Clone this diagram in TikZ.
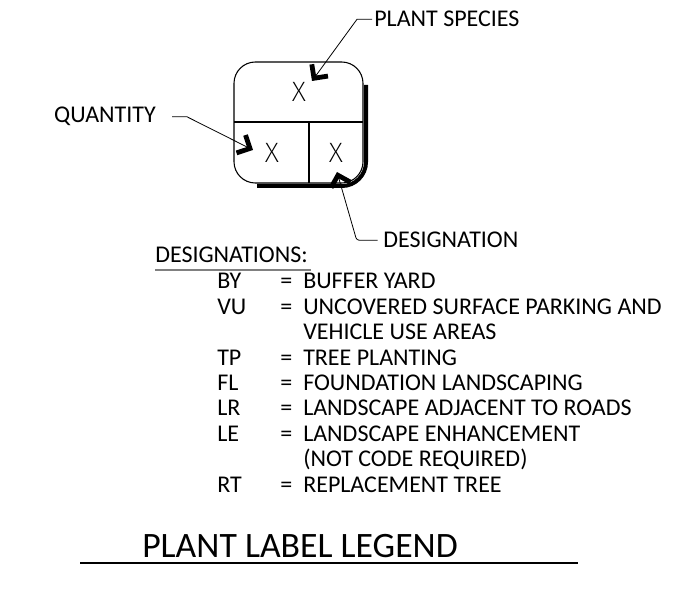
\documentclass[tikz,border=0pt]{standalone}
\usepackage{fontspec}
\setmainfont{Carlito}
\newfontfamily\markfont{Fira Sans ExtraLight}
\usetikzlibrary{arrows.meta,calc}

\begin{document}
\begin{tikzpicture}[
  x=0.75pt,y=-0.75pt,
  txt/.style={anchor=base west,inner sep=0pt,font=\fontsize{18}{21}\selectfont},
  xmark/.style={inner sep=0pt,font=\markfont\fontsize{21}{21}\selectfont},
  leader/.style={line width=0.6pt,-{Straight Barb[length=7.5pt,width=15pt,line width=3.6pt]}}
]
  \useasboundingbox (0,0) rectangle (694,599);

  % label box
  \draw[line width=0.8pt,rounded corners=16pt] (234,62) rectangle (363,183);
  \draw[line width=0.8pt] (234,122) -- (363,122);
  \draw[line width=0.8pt] (309,122) -- (309,183);
  \draw[line width=3pt,rounded corners=18pt] (366,85) -- (366,186) -- (257,186);
  \node[xmark] (xspecies) at (299,92) {X};
  \node[xmark] (xqty) at (272,152.5) {X};
  \node[xmark] (xdesig) at (336,152.5) {X};

  % callouts
  \node[txt] (species) at (374,27) {PLANT SPECIES};
  \node[txt,anchor=base east] (qty) at (156,123) {QUANTITY};
  \node[txt] (desig) at (383,248) {DESIGNATION};
  \coordinate (spTip) at (312,81);
  \coordinate (qtyTip) at (253,150);
  \coordinate (dsTip) at (337,172);
  \draw[leader] ([xshift=-1.5pt]species.west) -- ++(-15,0) -- (spTip);
  \draw[leader] ([xshift=12pt]qty.east) -- ++(15,0) -- (qtyTip);
  \draw[leader,rounded corners=2pt] ([xshift=-4pt]desig.west) -- ++(-21,0) -- (dsTip);

  % designations list
  \node[txt] (head) at (155,263) {DESIGNATIONS:};
  \draw[gray,line width=0.8pt] ($(head.base west)+(0,7)$) -- ($(head.base east)+(3,7)$);
  \foreach \k/\code/\desc in {0/BY/BUFFER YARD,1/VU/UNCOVERED SURFACE PARKING AND,
      3/TP/TREE PLANTING,4/FL/FOUNDATION LANDSCAPING,5/LR/LANDSCAPE ADJACENT TO ROADS,
      6/LE/LANDSCAPE ENHANCEMENT,8/RT/REPLACEMENT TREE}{
    \node[txt] (code\code) at (217,{289+25.4*\k}) {\code};
    \node[txt] (eq\code) at (280,{289+25.4*\k}) {=};
    \node[txt] (def\code) at (303,{289+25.4*\k}) {\desc};
  }
  \node[txt] (defVUb) at (303,{289+25.4*2}) {VEHICLE USE AREAS};
  \node[txt] (defLEb) at (303,{289+25.4*7}) {(NOT CODE REQUIRED)};

  % title
  \node[txt,font=\fontsize{26.8}{30}\selectfont] (title) at (142,557) {PLANT LABEL LEGEND};
  \draw[line width=0.9pt] ($(title.base west)+(-62,6)$) -- ++(498,0);
\end{tikzpicture}
\end{document}
